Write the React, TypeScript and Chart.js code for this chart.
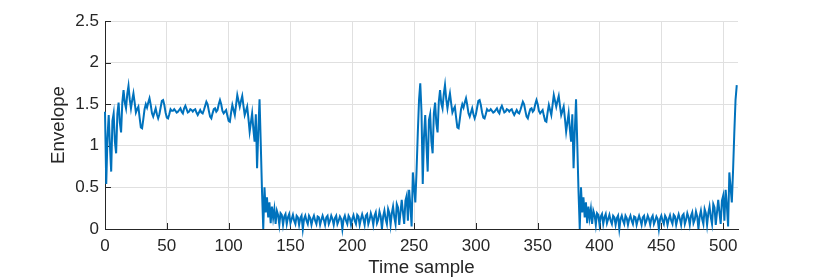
import React, { useEffect, useRef } from 'react';
import { Chart, registerables } from 'chart.js';

Chart.register(...registerables);

// Envelope samples 0..127 (first high block)
const highA = [
  1.41, 0.54, 1.10, 1.37, 1.00, 0.69, 1.30, 1.39,
  1.05, 0.91, 1.38, 1.52, 1.28, 1.16, 1.52, 1.67,
  1.52, 1.45, 1.62, 1.72, 1.56, 1.45, 1.55, 1.63,
  1.52, 1.40, 1.44, 1.47, 1.34, 1.22, 1.21, 1.32,
  1.44, 1.50, 1.46, 1.52, 1.57, 1.49, 1.39, 1.35,
  1.40, 1.45, 1.38, 1.33, 1.38, 1.46, 1.54, 1.55,
  1.49, 1.40, 1.34, 1.33, 1.38, 1.44, 1.42, 1.42,
  1.44, 1.42, 1.40, 1.41, 1.43, 1.45, 1.41, 1.39,
  1.45, 1.48, 1.44, 1.40, 1.41, 1.44, 1.43, 1.41,
  1.43, 1.44, 1.40, 1.37, 1.40, 1.43, 1.40, 1.39,
  1.43, 1.48, 1.53, 1.50, 1.42, 1.35, 1.33, 1.39,
  1.44, 1.45, 1.41, 1.43, 1.50, 1.55, 1.50, 1.42,
  1.39, 1.41, 1.43, 1.36, 1.30, 1.29, 1.40, 1.49,
  1.43, 1.37, 1.49, 1.61, 1.54, 1.47, 1.54, 1.60,
  1.48, 1.37, 1.42, 1.47, 1.33, 1.17, 1.28, 1.39,
  1.20, 1.05, 1.38, 0.73, 1.18, 1.56, 1.02, 0.45,
];

// Envelope samples 128..255 (first low block)
const lowA = [
  0.00, 0.50, 0.20, 0.38, 0.14, 0.32, 0.07, 0.27,
  0.13, 0.24, 0.06, 0.22, 0.17, 0.05, 0.19, 0.17,
  0.05, 0.15, 0.18, 0.06, 0.14, 0.18, 0.07, 0.12,
  0.17, 0.10, 0.06, 0.16, 0.14, 0.05, 0.13, 0.16,
  0.00, 0.12, 0.16, 0.10, 0.06, 0.16, 0.13, 0.05,
  0.12, 0.16, 0.10, 0.06, 0.15, 0.14, 0.05, 0.11,
  0.16, 0.11, 0.05, 0.14, 0.16, 0.06, 0.10, 0.16,
  0.12, 0.05, 0.13, 0.16, 0.06, 0.10, 0.15, 0.12,
  0.00, 0.12, 0.16, 0.10, 0.06, 0.16, 0.13, 0.05,
  0.12, 0.165, 0.10, 0.06, 0.17, 0.15, 0.05, 0.12,
  0.175, 0.12, 0.05, 0.16, 0.18, 0.06, 0.11, 0.19,
  0.14, 0.05, 0.16, 0.20, 0.07, 0.11, 0.21, 0.15,
  0.00, 0.15, 0.22, 0.12, 0.06, 0.24, 0.19, 0.05,
  0.19, 0.27, 0.14, 0.06, 0.30, 0.26, 0.05, 0.20,
  0.35, 0.20, 0.06, 0.34, 0.40, 0.10, 0.47, 0.28,
  0.03, 0.68, 0.50, 0.32, 0.70, 1.15, 1.55, 1.75,
];

// Envelope samples 256..383 (second high block)
const highB = [
  1.41, 0.54, 1.11, 1.37, 1.01, 0.69, 1.31, 1.38,
  1.05, 0.91, 1.39, 1.52, 1.27, 1.16, 1.53, 1.67,
  1.51, 1.45, 1.62, 1.73, 1.56, 1.45, 1.55, 1.63,
  1.51, 1.40, 1.44, 1.47, 1.34, 1.22, 1.21, 1.32,
  1.44, 1.50, 1.46, 1.52, 1.57, 1.49, 1.39, 1.35,
  1.40, 1.45, 1.38, 1.33, 1.38, 1.46, 1.54, 1.55,
  1.49, 1.40, 1.34, 1.33, 1.38, 1.44, 1.42, 1.42,
  1.44, 1.42, 1.40, 1.41, 1.43, 1.45, 1.41, 1.39,
  1.45, 1.48, 1.44, 1.40, 1.41, 1.44, 1.43, 1.41,
  1.43, 1.44, 1.40, 1.37, 1.40, 1.43, 1.40, 1.39,
  1.43, 1.48, 1.53, 1.50, 1.42, 1.35, 1.33, 1.39,
  1.44, 1.45, 1.41, 1.43, 1.50, 1.55, 1.50, 1.42,
  1.39, 1.41, 1.43, 1.36, 1.30, 1.29, 1.40, 1.49,
  1.43, 1.37, 1.49, 1.61, 1.54, 1.47, 1.54, 1.60,
  1.48, 1.37, 1.42, 1.47, 1.33, 1.17, 1.28, 1.39,
  1.20, 1.05, 1.38, 0.73, 1.18, 1.56, 1.02, 0.45,
];

// Envelope samples 384..511 (second low block)
const lowB = [
  0.00, 0.50, 0.20, 0.38, 0.14, 0.32, 0.07, 0.27,
  0.13, 0.24, 0.06, 0.22, 0.17, 0.05, 0.19, 0.17,
  0.05, 0.15, 0.18, 0.06, 0.14, 0.18, 0.07, 0.12,
  0.17, 0.10, 0.06, 0.16, 0.14, 0.05, 0.13, 0.16,
  0.00, 0.12, 0.16, 0.10, 0.06, 0.16, 0.13, 0.05,
  0.12, 0.16, 0.10, 0.06, 0.15, 0.14, 0.05, 0.11,
  0.16, 0.11, 0.05, 0.14, 0.16, 0.06, 0.10, 0.16,
  0.12, 0.05, 0.13, 0.16, 0.06, 0.10, 0.15, 0.12,
  0.00, 0.12, 0.16, 0.10, 0.06, 0.16, 0.13, 0.05,
  0.12, 0.165, 0.10, 0.06, 0.17, 0.15, 0.05, 0.12,
  0.175, 0.12, 0.05, 0.16, 0.18, 0.06, 0.11, 0.19,
  0.14, 0.05, 0.16, 0.20, 0.07, 0.11, 0.21, 0.15,
  0.00, 0.15, 0.22, 0.12, 0.06, 0.24, 0.19, 0.05,
  0.19, 0.27, 0.14, 0.06, 0.30, 0.26, 0.05, 0.20,
  0.35, 0.20, 0.06, 0.34, 0.40, 0.10, 0.47, 0.28,
  0.03, 0.68, 0.50, 0.32, 0.70, 1.15, 1.55, 1.73,
];

const xAxisTitle = 'Time sample';
const yAxisTitle = 'Envelope';

const AXIS_COLOR = '#262626';
const GRID_COLOR = '#e0e0e0';
const LINE_COLOR = '#0072BD';
const FONT_FAMILY = '"Liberation Sans", Arial, Helvetica, sans-serif';

const innerTicks = {
  id: 'innerTicks',
  beforeDatasetsDraw(chart: any) {
    const { ctx, chartArea, scales } = chart;
    const len = 6;
    ctx.save();
    ctx.strokeStyle = AXIS_COLOR;
    ctx.lineWidth = 1;
    scales.x.ticks.forEach((t: any) => {
      const px = Math.round(scales.x.getPixelForValue(t.value)) + 0.5;
      ctx.beginPath();
      ctx.moveTo(px, chartArea.bottom);
      ctx.lineTo(px, chartArea.bottom - len);
      ctx.stroke();
    });
    scales.y.ticks.forEach((t: any) => {
      const py = Math.round(scales.y.getPixelForValue(t.value)) + 0.5;
      ctx.beginPath();
      ctx.moveTo(chartArea.left, py);
      ctx.lineTo(chartArea.left + len, py);
      ctx.stroke();
    });
    ctx.restore();
  },
};

export default function App() {
  const ref = useRef<HTMLCanvasElement>(null);

  useEffect(() => {
    const canvas = ref.current;
    if (!canvas) return;
    const envelope = [...highA, ...lowA, ...highB, ...lowB];
    const points = envelope.map((v, i) => ({ x: i, y: v }));

    const chart = new Chart(canvas, {
      type: 'line',
      data: {
        datasets: [
          {
            data: points,
            borderColor: LINE_COLOR,
            borderWidth: 2,
            pointRadius: 0,
            tension: 0,
            fill: false,
            clip: false as any,
          },
        ],
      },
      options: {
        animation: false,
        responsive: false,
        devicePixelRatio: 1,
        layout: { padding: { left: 0, right: 76, top: 21, bottom: 0 } },
        plugins: {
          legend: { display: false },
          tooltip: { enabled: false },
        },
        scales: {
          x: {
            type: 'linear',
            min: 0,
            max: 512,
            afterFit: (s: any) => {
              s.height = 51;
            },
            ticks: {
              stepSize: 50,
              includeBounds: false,
              padding: 7,
              color: AXIS_COLOR,
              font: { family: FONT_FAMILY, size: 17 },
              maxRotation: 0,
              callback: (v: any) => String(Number(v)),
            },
            grid: { color: GRID_COLOR, drawTicks: false },
            border: { color: AXIS_COLOR, width: 1 },
            title: {
              display: true,
              text: xAxisTitle,
              color: AXIS_COLOR,
              font: { family: FONT_FAMILY, size: 18.7 },
              padding: { top: 0, bottom: 0.5 },
            },
          },
          y: {
            type: 'linear',
            min: 0,
            max: 2.5,
            afterFit: (s: any) => {
              s.width = 105;
            },
            ticks: {
              stepSize: 0.5,
              padding: 6,
              color: AXIS_COLOR,
              font: { family: FONT_FAMILY, size: 17 },
              callback: (v: any) => String(Number(v)),
            },
            grid: { color: GRID_COLOR, drawTicks: false },
            border: { color: AXIS_COLOR, width: 1 },
            title: {
              display: true,
              text: yAxisTitle,
              color: AXIS_COLOR,
              font: { family: FONT_FAMILY, size: 18.7 },
              padding: { top: 48, bottom: 0 },
            },
          },
        },
      },
      plugins: [innerTicks],
    });

    return () => chart.destroy();
  }, []);

  return (
    <div style={{ position: 'fixed', left: 0, top: 0, width: 814, height: 280, background: '#fff' }}>
      <canvas ref={ref} width={814} height={280} style={{ display: 'block', width: 814, height: 280 }} />
    </div>
  );
}
